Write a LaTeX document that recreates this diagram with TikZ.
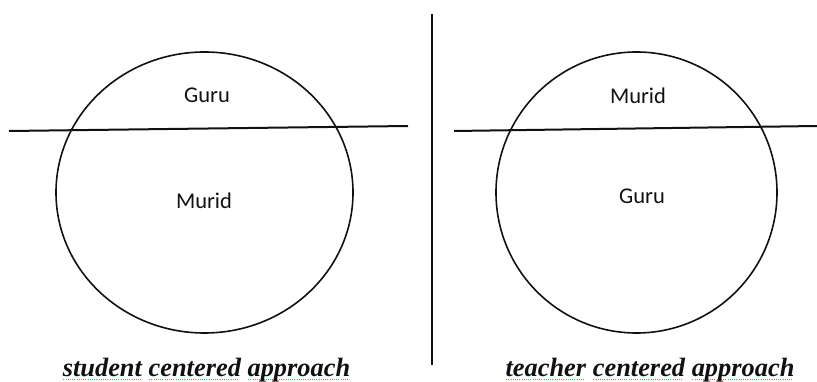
\documentclass[tikz,border=0pt]{standalone}
\usepackage{xcolor}
\usepackage{fontspec}
\setmainfont{Liberation Serif}
\newfontfamily\partfont{Carlito}
\usepackage{tikz}
\definecolor{inkblack}{HTML}{111111}
\definecolor{spellred}{HTML}{E06060}

% red dotted mark under a word
\newcommand{\spellmark}[1]{\leavevmode\setbox0=\hbox{#1}%
  \rlap{\raisebox{-3.5pt}{\color{spellred}\leaders\hbox to 2.2pt{\hss\rule{1.1pt}{0.9pt}\hss}\hskip\wd0}}\box0\relax}

\tikzset{
  part/.style={font=\partfont\fontsize{22.5}{26}\selectfont,text=inkblack,inner sep=0pt,anchor=base},
  caption/.style={font=\bfseries\itshape\fontsize{26.4}{30}\selectfont,text=inkblack,inner sep=0pt,anchor=base},
  rim/.style={draw=inkblack,line width=1.6pt},
  cut/.style={draw=inkblack,line width=2pt}
}

\begin{document}
\begin{tikzpicture}[x=1pt,y=-1pt]
  \useasboundingbox (0,0) rectangle (817,382);
  % left half
  \draw[rim] (204.5,192.5) ellipse [x radius=148.5, y radius=140.5];
  \coordinate (lcutA) at (9,131);
  \coordinate (lcutB) at (408,126);
  \draw[cut] (lcutA) -- (lcutB);
  \node[part] (lguru) at (207,103) {Guru};
  \node[part] (lmurid) at (204,209) {Murid};
  \node[caption] (lcap) at (206.5,376) {\spellmark{student} \spellmark{centered} \spellmark{approach}};
  % divider
  \coordinate (divtop) at (432,14);
  \coordinate (divbot) at (432,365);
  \draw[inkblack,line width=1.5pt] (divtop) -- (divbot);
  % right half
  \draw[rim] (636.5,192.5) circle [radius=140.5];
  \coordinate (rcutA) at (454,131);
  \coordinate (rcutB) at (817,126);
  \draw[cut] (rcutA) -- (rcutB);
  \node[part] (rmurid) at (638,104) {Murid};
  \node[part] (rguru) at (642,204) {Guru};
  \node[caption] (rcap) at (650,376) {\spellmark{teacher} \spellmark{centered} \spellmark{approach}};
\end{tikzpicture}
\end{document}
